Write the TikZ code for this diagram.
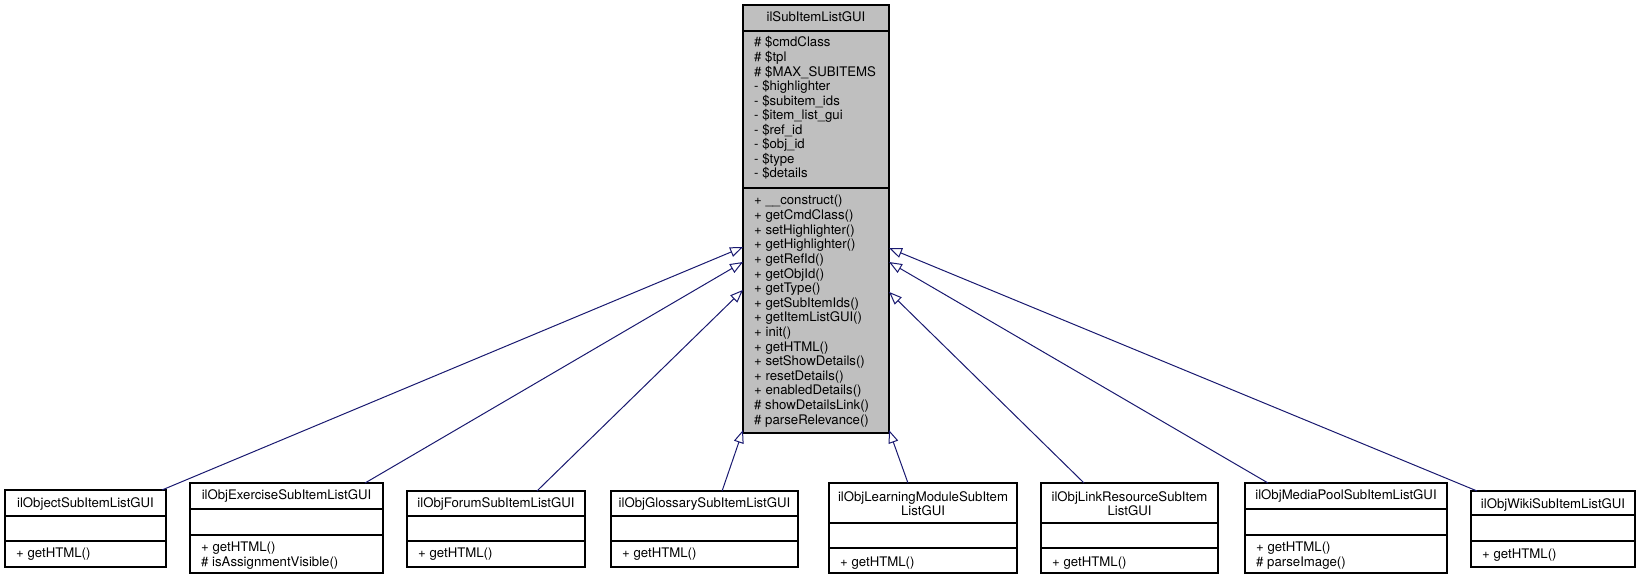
\documentclass[tikz,border=0pt]{standalone}
\usepackage{fontspec}
\setmainfont{TeX Gyre Heros}
\usetikzlibrary{arrows.meta,calc}
\definecolor{basegray}{HTML}{BFBFBF}
\definecolor{edgeblue}{HTML}{191970}
\newcommand\dfs{\fontsize{13.2pt}{14.6pt}\selectfont}
\begin{document}
\begin{tikzpicture}[x=1pt,y=-1pt,
  box/.style={draw=black, line width=1.1pt, fill=white, inner sep=0pt, outer sep=0pt, anchor=north west},
  gbox/.style={box, fill=basegray},
  lbl/.style={inner sep=0pt, anchor=base west, font=\dfs},
  ttl/.style={inner sep=0pt, anchor=base, font=\dfs},
  inh/.style={draw=edgeblue, line width=1pt, -{Triangle[open, length=13pt, width=10pt]}}
]
\useasboundingbox (0,0) rectangle (1644,580);

% ---- base class ----
\node[gbox, minimum width=146pt, minimum height=26pt] (baseT) at (743,5) {};
\node[gbox, minimum width=146pt, minimum height=157pt] (baseA) at (743,31) {};
\node[gbox, minimum width=146pt, minimum height=245pt] (baseM) at (743,188) {};
\node[ttl] (baseName) at (816,22) {ilSubItemListGUI};
\foreach \t [count=\i from 0] in {\# \$cmdClass, \# \$tpl, \# \$MAX\_SUBITEMS, - \$highlighter, - \$subitem\_ids, - \$item\_list\_gui, - \$ref\_id, - \$obj\_id, - \$type, - \$details}
  \node[lbl] (ba\i) at (754,47+14.55*\i) {\t};
\foreach \t [count=\i from 0] in {+ \_\_construct(), + getCmdClass(), + setHighlighter(), + getHighlighter(), + getRefId(), + getObjId(), + getType(), + getSubItemIds(), + getItemListGUI(), + init(), + getHTML(), + setShowDetails(), + resetDetails(), + enabledDetails(), \# showDetailsLink(), \# parseRelevance()}
  \node[lbl] (bm\i) at (754,205+14.6*\i) {\t};

% ---- ilObjectSubItemListGUI ----
\node[box, minimum width=161pt, minimum height=26pt] (objT) at (5,490) {};
\node[box, minimum width=161pt, minimum height=25pt] (objA) at (5,516) {};
\node[box, minimum width=161pt, minimum height=26pt] (objM) at (5,541) {};
\node[ttl] (objN) at (85.5,507.5) {ilObjectSubItemListGUI};
\node[lbl] (objm0) at (16,557.5) {+ getHTML()};

% ---- ilObjExerciseSubItemListGUI ----
\node[box, minimum width=193pt, minimum height=26pt] (exeT) at (190,483) {};
\node[box, minimum width=193pt, minimum height=26pt] (exeA) at (190,509) {};
\node[box, minimum width=193pt, minimum height=38pt] (exeM) at (190,535) {};
\node[ttl] (exeN) at (286.5,499.5) {ilObjExerciseSubItemListGUI};
\node[lbl] (exem0) at (201,551.5) {+ getHTML()};
\node[lbl] (exem1) at (201,566) {\# isAssignmentVisible()};

% ---- ilObjForumSubItemListGUI ----
\node[box, minimum width=178pt, minimum height=25pt] (forT) at (407,491) {};
\node[box, minimum width=178pt, minimum height=25pt] (forA) at (407,516) {};
\node[box, minimum width=178pt, minimum height=26pt] (forM) at (407,541) {};
\node[ttl] (forN) at (496,507.5) {ilObjForumSubItemListGUI};
\node[lbl] (form0) at (418,557.5) {+ getHTML()};

% ---- ilObjGlossarySubItemListGUI ----
\node[box, minimum width=187pt, minimum height=25pt] (gloT) at (611,491) {};
\node[box, minimum width=187pt, minimum height=25pt] (gloA) at (611,516) {};
\node[box, minimum width=187pt, minimum height=26pt] (gloM) at (611,541) {};
\node[ttl] (gloN) at (704.5,507.5) {ilObjGlossarySubItemListGUI};
\node[lbl] (glom0) at (622,557.5) {+ getHTML()};

% ---- ilObjLearningModuleSubItemListGUI ----
\node[box, minimum width=188pt, minimum height=40pt] (lmT) at (829,483) {};
\node[box, minimum width=188pt, minimum height=25pt] (lmA) at (829,523) {};
\node[box, minimum width=188pt, minimum height=25pt] (lmM) at (829,548) {};
\node[ttl] (lmN1) at (923,501) {ilObjLearningModuleSubItem};
\node[ttl] (lmN2) at (923,515.5) {ListGUI};
\node[lbl] (lmm0) at (840,566.5) {+ getHTML()};

% ---- ilObjLinkResourceSubItemListGUI ----
\node[box, minimum width=177pt, minimum height=40pt] (lnkT) at (1041,483) {};
\node[box, minimum width=177pt, minimum height=25pt] (lnkA) at (1041,523) {};
\node[box, minimum width=177pt, minimum height=25pt] (lnkM) at (1041,548) {};
\node[ttl] (lnkN1) at (1129.5,501) {ilObjLinkResourceSubItem};
\node[ttl] (lnkN2) at (1129.5,515.5) {ListGUI};
\node[lbl] (lnkm0) at (1052,566.5) {+ getHTML()};

% ---- ilObjMediaPoolSubItemListGUI ----
\node[box, minimum width=202pt, minimum height=26pt] (medT) at (1245,483) {};
\node[box, minimum width=202pt, minimum height=26pt] (medA) at (1245,509) {};
\node[box, minimum width=202pt, minimum height=38pt] (medM) at (1245,535) {};
\node[ttl] (medN) at (1346,499.5) {ilObjMediaPoolSubItemListGUI};
\node[lbl] (medm0) at (1256,551.5) {+ getHTML()};
\node[lbl] (medm1) at (1256,566) {\# parseImage()};

% ---- ilObjWikiSubItemListGUI ----
\node[box, minimum width=164pt, minimum height=24pt] (wikT) at (1471,491) {};
\node[box, minimum width=164pt, minimum height=26pt] (wikA) at (1471,515) {};
\node[box, minimum width=164pt, minimum height=26pt] (wikM) at (1471,541) {};
\node[ttl] (wikN) at (1553,508) {ilObjWikiSubItemListGUI};
\node[lbl] (wikm0) at (1482,558.5) {+ getHTML()};

% ---- inheritance edges ----
\draw[inh] ($(objT.north west)!0.975!(objT.north east)$) -- ($(baseM.north west)!0.241!(baseM.south west)$);
\draw[inh] ($(exeT.north west)!0.907!(exeT.north east)$) -- ($(baseM.north west)!0.302!(baseM.south west)$);
\draw[inh] ($(forT.north west)!0.73!(forT.north east)$) -- ($(baseM.north west)!0.416!(baseM.south west)$);
\draw[inh] ($(gloT.north west)!0.594!(gloT.north east)$) -- ($(baseM.north west)!0.988!(baseM.south west)$);
\draw[inh] ($(lmT.north west)!0.42!(lmT.north east)$) -- ($(baseM.north east)!0.988!(baseM.south east)$);
\draw[inh] ($(lnkT.north west)!0.243!(lnkT.north east)$) -- ($(baseM.north east)!0.424!(baseM.south east)$);
\draw[inh] ($(medT.north west)!0.114!(medT.north east)$) -- ($(baseM.north east)!0.302!(baseM.south east)$);
\draw[inh] ($(wikT.north west)!0.037!(wikT.north east)$) -- ($(baseM.north east)!0.245!(baseM.south east)$);
\end{tikzpicture}
\end{document}
